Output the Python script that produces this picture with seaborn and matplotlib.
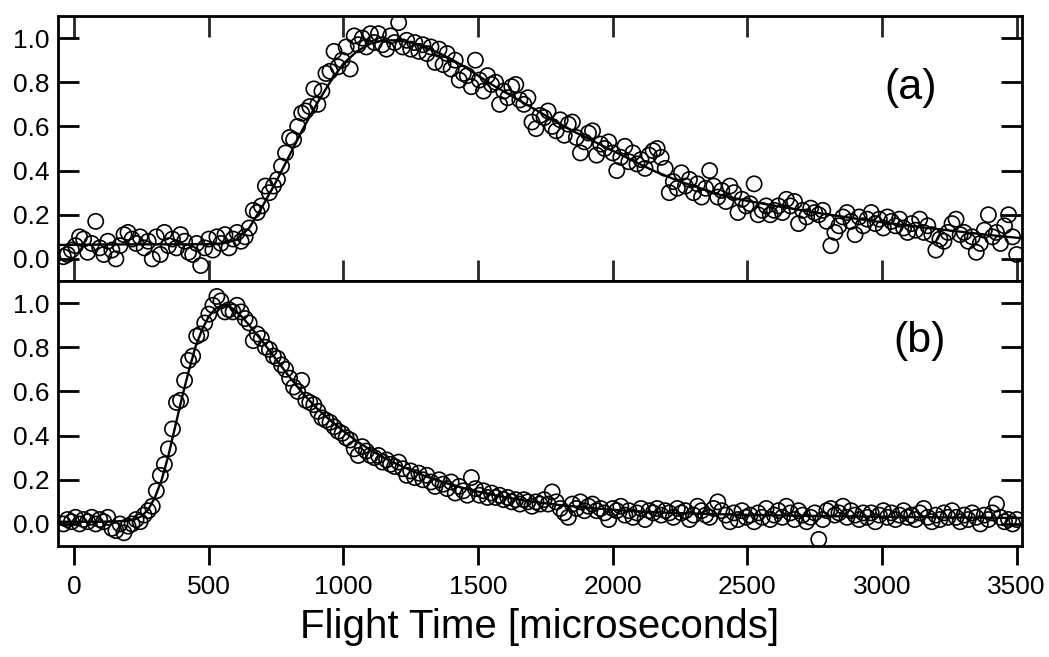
import numpy as np
import matplotlib
matplotlib.use("Agg")
import matplotlib.pyplot as plt
import seaborn as sns

# detector sampling grid (microseconds)
t_start = -40
t_step = 15

# panel (a): measured signal, one value per time bin
sig_a = [
    0.01, 0.02, 0.04, 0.06, 0.10, 0.09, 0.03, 0.07, 0.17, 0.05,
    0.02, 0.08, 0.04, 0.00, 0.06, 0.11, 0.12, 0.09, 0.07, 0.10,
    0.05, 0.08, 0.00, 0.10, 0.02, 0.12, 0.06, 0.09, 0.05, 0.11,
    0.08, 0.03, 0.02, 0.07, -0.03, 0.05, 0.09, 0.04, 0.10, 0.07,
    0.11, 0.05, 0.09, 0.12, 0.08, 0.10, 0.14, 0.22, 0.21, 0.24,
    0.33, 0.30, 0.33, 0.36, 0.42, 0.48, 0.55, 0.54, 0.60, 0.66,
    0.67, 0.69, 0.77, 0.70, 0.76, 0.84, 0.85, 0.94, 0.87, 0.90,
    0.96, 0.86, 1.01, 0.97, 1.00, 0.96, 1.02, 0.98, 1.02, 0.97,
    0.95, 1.01, 0.98, 1.07, 0.96, 0.99, 0.95, 0.98, 0.94, 0.97,
    0.93, 0.96, 0.89, 0.95, 0.88, 0.93, 0.86, 0.90, 0.81, 0.84,
    0.83, 0.78, 0.90, 0.81, 0.76, 0.83, 0.79, 0.80, 0.70, 0.76,
    0.73, 0.78, 0.79, 0.72, 0.70, 0.73, 0.62, 0.59, 0.65, 0.64,
    0.67, 0.60, 0.58, 0.63, 0.56, 0.61, 0.62, 0.55, 0.48, 0.53,
    0.57, 0.58, 0.47, 0.52, 0.50, 0.53, 0.48, 0.40, 0.46, 0.51,
    0.44, 0.48, 0.43, 0.45, 0.41, 0.47, 0.49, 0.50, 0.46, 0.41,
    0.30, 0.35, 0.32, 0.39, 0.33, 0.36, 0.30, 0.34, 0.28, 0.32,
    0.40, 0.33, 0.28, 0.31, 0.26, 0.33, 0.30, 0.21, 0.27, 0.24,
    0.25, 0.34, 0.20, 0.22, 0.24, 0.20, 0.22, 0.24, 0.21, 0.27,
    0.24, 0.26, 0.16, 0.22, 0.19, 0.23, 0.21, 0.20, 0.22, 0.17,
    0.06, 0.12, 0.15, 0.19, 0.21, 0.17, 0.11, 0.19, 0.15, 0.18,
    0.21, 0.16, 0.18, 0.14, 0.19, 0.17, 0.15, 0.18, 0.14, 0.12,
    0.16, 0.13, 0.18, 0.12, 0.15, 0.11, 0.04, 0.09, 0.08, 0.12,
    0.16, 0.18, 0.11, 0.12, 0.08, 0.10, 0.03, 0.07, 0.13, 0.20,
    0.10, 0.12, 0.07, 0.15, 0.20, 0.10, 0.02,
]

# panel (b): measured signal
sig_b = [
    0.00, 0.02, 0.01, 0.03, 0.00, 0.02, 0.01, 0.03, 0.00, 0.02,
    0.01, 0.03, -0.02, -0.03, 0.00, -0.04, -0.01, 0.00, 0.02, 0.01,
    0.04, 0.06, 0.08, 0.15, 0.22, 0.27, 0.34, 0.43, 0.55, 0.56,
    0.65, 0.74, 0.76, 0.85, 0.86, 0.91, 0.95, 0.99, 1.03, 1.01,
    0.96, 0.97, 0.96, 0.99, 0.96, 0.93, 0.91, 0.83, 0.86, 0.84,
    0.80, 0.79, 0.76, 0.75, 0.72, 0.70, 0.66, 0.62, 0.60, 0.65,
    0.56, 0.55, 0.54, 0.51, 0.48, 0.47, 0.46, 0.44, 0.42, 0.41,
    0.39, 0.38, 0.34, 0.31, 0.35, 0.33, 0.31, 0.30, 0.31, 0.28,
    0.29, 0.27, 0.26, 0.28, 0.25, 0.22, 0.24, 0.21, 0.23, 0.20,
    0.22, 0.19, 0.17, 0.20, 0.18, 0.16, 0.19, 0.14, 0.17, 0.15,
    0.13, 0.21, 0.16, 0.13, 0.15, 0.12, 0.14, 0.12, 0.13, 0.11,
    0.12, 0.10, 0.11, 0.09, 0.11, 0.10, 0.08, 0.10, 0.09, 0.11,
    0.09, 0.145, 0.10, 0.07, 0.05, 0.03, 0.09, 0.07, 0.10, 0.06,
    0.08, 0.09, 0.06, 0.07, 0.05, 0.02, 0.07, 0.06, 0.08, 0.04,
    0.06, 0.03, 0.05, 0.07, 0.02, 0.06, 0.05, 0.07, 0.04, 0.06,
    0.05, 0.03, 0.07, 0.05, 0.06, 0.02, 0.04, 0.08, 0.06, 0.04,
    0.03, 0.07, 0.10, 0.06, 0.04, 0.01, 0.05, 0.02, 0.06, 0.03,
    0.04, 0.01, 0.05, 0.03, 0.07, 0.02, 0.04, 0.06, 0.03, 0.08,
    0.05, 0.02, 0.06, 0.04, 0.01, 0.03, 0.05, -0.07, 0.02, 0.06,
    0.07, 0.04, 0.05, 0.08, 0.03, 0.06, 0.04, 0.02, 0.05, 0.03,
    0.05, 0.01, 0.04, 0.06, 0.03, 0.05, 0.02, 0.04, 0.06, 0.03,
    0.04, 0.02, 0.05, 0.07, 0.03, 0.01, 0.04, 0.02, 0.05, 0.03,
    0.06, 0.03, 0.01, 0.04, 0.02, 0.05, 0.03, 0.00, 0.04, 0.02,
    0.05, 0.09, 0.03, 0.01, 0.02, 0.00, 0.02,
]

# fitted curves
fit_a_t = [-60, 0, 100, 200, 300, 400, 500, 550, 600, 650, 700, 750, 800, 850,
           900, 950, 1000, 1050, 1100, 1150, 1200, 1250, 1300, 1350, 1400, 1450,
           1500, 1550, 1600, 1650, 1700, 1750, 1800, 1850, 1900, 1950, 2000,
           2050, 2100, 2150, 2200, 2250, 2300, 2350, 2400, 2450, 2500, 2550,
           2600, 2650, 2700, 2750, 2800, 2850, 2900, 2950, 3000, 3050, 3100,
           3150, 3200, 3250, 3300, 3350, 3400, 3450, 3500, 3520]
fit_a = [0.063, 0.064, 0.065, 0.066, 0.066, 0.066, 0.067, 0.070, 0.085, 0.14,
         0.24, 0.35, 0.47, 0.59, 0.70, 0.80, 0.885, 0.94, 0.975, 0.99, 0.99,
         0.98, 0.96, 0.935, 0.905, 0.87, 0.83, 0.79, 0.755, 0.72, 0.685, 0.65,
         0.615, 0.58, 0.55, 0.52, 0.49, 0.46, 0.43, 0.40, 0.375, 0.35, 0.33,
         0.31, 0.29, 0.275, 0.263, 0.252, 0.241, 0.231, 0.221, 0.211, 0.201,
         0.192, 0.183, 0.174, 0.166, 0.158, 0.150, 0.143, 0.136, 0.129, 0.122,
         0.115, 0.108, 0.102, 0.096, 0.094]

fit_b_t = [-60, 0, 100, 150, 200, 225, 250, 275, 300, 325, 350, 375, 400, 425,
           450, 475, 500, 525, 550, 575, 600, 625, 650, 700, 750, 800, 850,
           900, 950, 1000, 1050, 1100, 1150, 1200, 1250, 1300, 1350, 1400,
           1450, 1500, 1600, 1700, 1800, 1900, 2000, 2100, 2200, 2300, 2400,
           2500, 2700, 2900, 3100, 3300, 3520]
fit_b = [0.010, 0.010, 0.010, 0.011, 0.015, 0.02, 0.035, 0.065, 0.12, 0.20,
         0.31, 0.44, 0.57, 0.69, 0.80, 0.88, 0.94, 0.975, 0.99, 0.985, 0.965,
         0.935, 0.90, 0.825, 0.745, 0.665, 0.59, 0.525, 0.47, 0.42, 0.375,
         0.335, 0.30, 0.27, 0.243, 0.218, 0.197, 0.178, 0.161, 0.146, 0.121,
         0.101, 0.086, 0.074, 0.064, 0.057, 0.051, 0.047, 0.044, 0.041, 0.037,
         0.034, 0.031, 0.029, 0.027]

x_ticks = [0, 500, 1000, 1500, 2000, 2500, 3000, 3500]
y_ticks = [0.0, 0.2, 0.4, 0.6, 0.8, 1.0]
panel_names = ["(a)", "(b)"]

sns.set_theme(style="ticks")
plt.rcParams["font.family"] = ["Liberation Sans", "DejaVu Sans"]
plt.rcParams["text.color"] = "black"
plt.rcParams["axes.labelcolor"] = "black"

fig = plt.figure(figsize=(10.49, 6.57), dpi=100)
ax_a = fig.add_axes([0.0553, 0.5723, 0.9190, 0.4033])
ax_b = fig.add_axes([0.0553, 0.1689, 0.9190, 0.4034])

series = [(ax_a, sig_a, fit_a_t, fit_a), (ax_b, sig_b, fit_b_t, fit_b)]
for ax, sig, ft, fv in series:
    t = t_start + t_step * np.arange(len(sig))
    sns.lineplot(x=ft, y=fv, ax=ax, color="black", lw=1.7,
                 estimator=None, sort=False)
    sns.scatterplot(x=t, y=sig, ax=ax, marker="o", s=120,
                    facecolor="none", edgecolor="black", linewidth=1.2)
    ax.set_xlim(-60, 3520)
    ax.set_ylim(-0.1, 1.1)
    ax.set_yticks(y_ticks)
    ax.set_yticklabels([f"{v:.1f}" for v in y_ticks])
    ax.set_xticks(x_ticks)
    ax.set_xlabel("")
    ax.set_ylabel("")
    for s in ax.spines.values():
        s.set_linewidth(2.0)
        s.set_color("black")
    ax.tick_params(axis="y", direction="in", length=15, width=2.0,
                   left=True, right=True, labelsize=19, pad=6, colors="black")

# panel (a): inward ticks all round, no x labels
ax_a.tick_params(axis="x", direction="in", length=15, width=2.0,
                 top=True, bottom=True, labelbottom=False)
# panel (b): outward ticks on the bottom only
ax_b.tick_params(axis="x", direction="out", length=14, width=2.0,
                 top=False, bottom=True, labelsize=19, pad=7, colors="black")
ax_b.set_xticklabels([str(v) for v in x_ticks])
ax_b.set_xlabel("Flight Time [microseconds]", fontsize=29, labelpad=6)

ax_a.text(0.884, 0.73, panel_names[0], transform=ax_a.transAxes,
          fontsize=31, ha="center", va="center")
ax_b.text(0.894, 0.775, panel_names[1], transform=ax_b.transAxes,
          fontsize=31, ha="center", va="center")

fig.savefig("out.png", dpi=100, facecolor="white")
